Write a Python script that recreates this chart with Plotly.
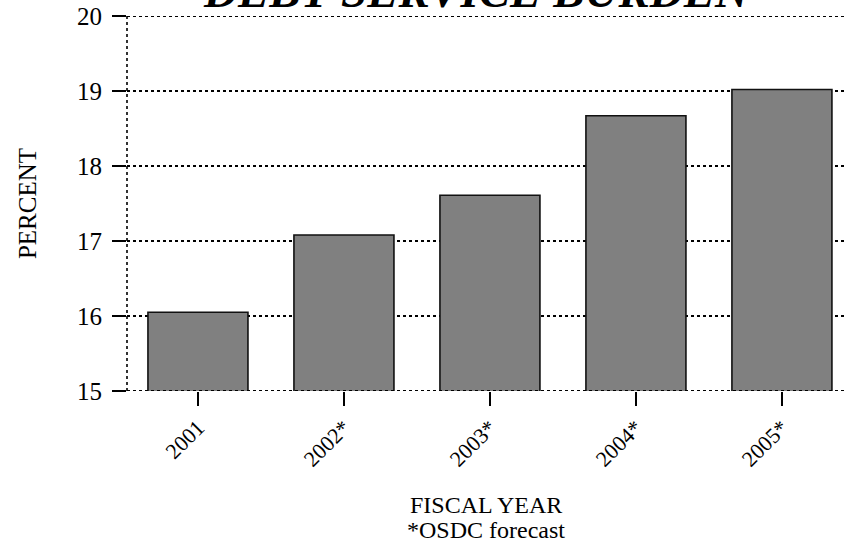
import plotly.graph_objects as go

# Debt service burden by fiscal year (percent)
years = ["2001", "2002*", "2003*", "2004*", "2005*"]
burden = [16.05, 17.08, 17.61, 18.67, 19.02]

y_ticks = [15, 16, 17, 18, 19, 20]
y_min, y_max = 15, 20

serif = "Liberation Serif"

fig = go.Figure()
fig.add_trace(go.Bar(
    x=list(range(len(years))),
    y=burden,
    base=0,
    width=0.685,
    marker=dict(color="#808080", line=dict(color="#111111", width=1.6)),
    hoverinfo="y",
))

# dotted frame lines: left axis, and the top/bottom rules at the range edges
frame = [
    dict(type="line", xref="paper", yref="paper", x0=0, x1=0, y0=0, y1=1,
         line=dict(color="black", width=1.6, dash="dot")),
]
for yv in (y_min, y_max):
    frame.append(dict(type="line", xref="paper", yref="y", x0=0, x1=1, y0=yv, y1=yv,
                      line=dict(color="black", width=2, dash="dot")))

fig.update_layout(
    width=845,
    height=544,
    margin=dict(l=127, r=0, t=16, b=153),
    paper_bgcolor="white",
    plot_bgcolor="white",
    showlegend=False,
    font=dict(family=serif, color="black"),
    annotations=[
        dict(
            text="<b><i>DEBT SERVICE BURDEN</i></b>",
            xref="paper", yref="paper", x=0.488, y=1.0,
            xanchor="center", yanchor="bottom", yshift=-3,
            showarrow=False, font=dict(family=serif, size=47, color="black"),
        ),
        dict(
            text="FISCAL YEAR",
            xref="paper", yref="paper", x=0.5, y=0,
            xanchor="center", yanchor="middle", yshift=-114,
            showarrow=False, font=dict(family=serif, size=24, color="black"),
        ),
        dict(
            text="*OSDC forecast",
            xref="paper", yref="paper", x=0.5, y=0,
            xanchor="center", yanchor="middle", yshift=-139,
            showarrow=False, font=dict(family=serif, size=24, color="black"),
        ),
    ],
    shapes=frame,
)

fig.update_xaxes(
    range=[-0.486, 4.432],
    tickmode="array",
    tickvals=list(range(len(years))),
    ticktext=years,
    tickangle=-45,
    ticks="outside",
    ticklen=14,
    tickwidth=1.5,
    tickcolor="black",
    tickfont=dict(family=serif, size=22, color="black"),
    showgrid=False,
    zeroline=False,
    showline=False,
)

fig.update_yaxes(
    range=[y_min, y_max],
    tickmode="array",
    tickvals=y_ticks,
    ticks="outside",
    ticklen=14,
    tickwidth=1.5,
    tickcolor="black",
    tickfont=dict(family=serif, size=25, color="black"),
    ticklabelstandoff=5,
    showgrid=True,
    gridcolor="black",
    gridwidth=1.5,
    griddash="dot",
    zeroline=False,
    showline=False,
    title=dict(text="PERCENT", font=dict(family=serif, size=25, color="black"), standoff=33),
)

fig.write_html("out.html")
